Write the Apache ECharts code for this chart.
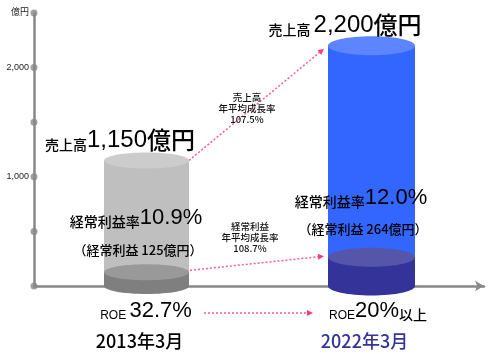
<!DOCTYPE html>
<html>
<head>
<meta charset="utf-8">
<script src="https://cdn.jsdelivr.net/npm/echarts@6/dist/echarts.min.js"></script>
<style>
  html, body { margin: 0; padding: 0; background: #fff; }
  #main { width: 500px; height: 354px; }
</style>
</head>
<body>
<div id="main"></div>
<script>
// data
const categories = ['2013年3月', '2022年3月'];
const sales = [1150, 2200];            // 売上高 (億円)
const ordinaryProfit = [125, 264];     // 経常利益 (億円)
const profitRate = ['10.9%', '12.0%'];
const roe = ['32.7%', '20%'];
const salesCagr = '107.5%';
const profitCagr = '108.7%';
const yTicks = [0, 500, 1000, 1500, 2000, 2500];

const JP = "'Noto Sans CJK JP', sans-serif";
const NUM = "'Liberation Sans Narrow', 'Liberation Sans', 'Noto Sans CJK JP', sans-serif";
const LAT = "'Liberation Sans', 'Noto Sans CJK JP', sans-serif";

const cylStyle = [
  { w: 85, ry: 8, body: '#bfbfbf', top: '#cccccc', dark: '#7f7f7f', darkTop: '#999999' },
  { w: 87, ry: 9.5, body: '#3366ff', top: '#5c85ff', dark: '#333399', darkTop: '#5555aa' }
];

let myChart = echarts.init(document.getElementById('main'));

let option = {
  animation: false,
  grid: { left: 34, right: 16, top: 13, bottom: 68, containLabel: false },
  xAxis: [
    {
      type: 'category',
      data: categories,
      boundaryGap: true,
      axisTick: { show: false },
      axisLine: {
        show: true,
        symbol: ['none', 'arrow'],
        symbolSize: [8, 9],
        lineStyle: { color: '#888888', width: 2.5 }
      },
      axisLabel: {
        margin: 46,
        fontSize: 18,
        fontWeight: 500,
        fontFamily: JP,
        padding: [0, 14, 0, 0],
        color: function (v, i) { return i === 1 ? '#333399' : '#000000'; }
      }
    },
    { type: 'value', min: 0, max: 1, show: false }
  ],
  yAxis: {
    type: 'value',
    min: 0,
    max: 2500,
    interval: 500,
    splitLine: { show: false },
    axisTick: { show: false },
    axisLine: { show: true, lineStyle: { color: '#888888', width: 2.5 } },
    axisLabel: {
      margin: 5,
      fontSize: 9,
      color: '#222222',
      fontFamily: LAT,
      formatter: function (v) {
        if (v === 2500) return '億円';
        if (v === 1000 || v === 2000) return v.toLocaleString('en-US');
        return '';
      }
    }
  },
  series: [
    {
      type: 'custom',
      xAxisIndex: 0,
      z: 3,
      data: categories.map((c, i) => [i, sales[i], ordinaryProfit[i]]),
      encode: { x: 0, y: 1 },
      renderItem: function (params, api) {
        const i = params.dataIndex;
        const base = api.coord([i, 0]);
        const x = base[0], yBase = base[1];
        const yTop = api.coord([i, api.value(1)])[1];
        const yIn = api.coord([i, api.value(2)])[1];
        const s = cylStyle[i];
        const rx = s.w / 2;
        return {
          type: 'group',
          children: [
            { type: 'rect', shape: { x: x - rx, y: yTop, width: s.w, height: yBase - yTop }, style: { fill: s.body } },
            { type: 'ellipse', shape: { cx: x, cy: yBase, rx: rx, ry: s.ry }, style: { fill: s.dark } },
            { type: 'rect', shape: { x: x - rx, y: yIn, width: s.w, height: yBase - yIn }, style: { fill: s.dark } },
            { type: 'ellipse', shape: { cx: x, cy: yIn, rx: rx, ry: s.ry }, style: { fill: s.darkTop } },
            { type: 'ellipse', shape: { cx: x, cy: yTop, rx: rx, ry: s.ry }, style: { fill: s.top } }
          ]
        };
      }
    },
    {
      type: 'scatter',
      xAxisIndex: 1,
      z: 4,
      symbolSize: 7,
      itemStyle: { color: '#888888' },
      data: yTicks.map(v => [0, v])
    }
  ]
};

myChart.setOption(option);

// annotations & arrows
function arrow(p1, p2) {
  const dx = p2[0] - p1[0], dy = p2[1] - p1[1];
  const len = Math.sqrt(dx * dx + dy * dy);
  const ux = dx / len, uy = dy / len;
  const L = 6, W = 3;
  const bx = p2[0] - ux * L, by = p2[1] - uy * L;
  return [
    {
      type: 'line',
      shape: { x1: p1[0], y1: p1[1], x2: bx, y2: by },
      style: { stroke: '#ff5c93', lineWidth: 1.5, lineDash: [2, 2] }
    },
    {
      type: 'polygon',
      shape: { points: [[p2[0], p2[1]], [bx - uy * W, by + ux * W], [bx + uy * W, by - ux * W]] },
      style: { fill: '#ff3c80' }
    }
  ];
}

const g0Top = myChart.convertToPixel({ seriesIndex: 0 }, [0, sales[0]]);
const g1Top = myChart.convertToPixel({ seriesIndex: 0 }, [1, sales[1]]);
const g0In = myChart.convertToPixel({ seriesIndex: 0 }, [0, ordinaryProfit[0]]);
const g1In = myChart.convertToPixel({ seriesIndex: 0 }, [1, ordinaryProfit[1]]);

function txt(x, y, text, rich, extra) {
  return {
    type: 'text',
    z: 10,
    style: Object.assign({ x: x, y: y, text: text, rich: rich, align: 'center', verticalAlign: 'bottom', fill: '#000' }, extra || {})
  };
}

const big = { fontSize: 24, fontFamily: NUM, verticalAlign: 'bottom', lineHeight: 26 };
const pct = { fontSize: 22, fontFamily: NUM, verticalAlign: 'bottom', lineHeight: 26 };
const small = { fontSize: 14, fontWeight: 500, fontFamily: JP, verticalAlign: 'bottom', lineHeight: 22 };
const bigJp = { fontSize: 24, fontWeight: 500, fontFamily: JP, verticalAlign: 'bottom', lineHeight: 26 };
const roeS = { fontSize: 12, fontFamily: LAT, verticalAlign: 'bottom', lineHeight: 20 };

const graphics = []
  .concat(arrow([g0Top[0] + cylStyle[0].w / 2, g0Top[1]], [g1Top[0] - cylStyle[1].w / 2 - 4, g1Top[1] + 3]))
  .concat(arrow([g0In[0] + cylStyle[0].w / 2 + 1, g0In[1] - 2], [g1In[0] - cylStyle[1].w / 2 - 4, g1In[1] - 1]))
  .concat(arrow([204, 313], [313, 313]))
  .concat([
    txt(120, 152, '{s|売上高}{b|' + sales[0].toLocaleString('en-US') + '}{j|億円}', { s: small, b: big, j: bigJp }),
    txt(345, 37, '{s|売上高 }{b|' + sales[1].toLocaleString('en-US') + '}{j|億円}', { s: small, b: big, j: bigJp }),
    txt(136, 229, '{s|経常利益率}{b|' + profitRate[0] + '}', { s: small, b: pct }),
    txt(361, 209, '{s|経常利益率}{b|' + profitRate[1] + '}', { s: small, b: pct }),
    txt(138, 257, '（経常利益 ' + ordinaryProfit[0] + '億円）', null, { fontSize: 13, fontWeight: 500, fontFamily: JP }),
    txt(363, 236, '（経常利益 ' + ordinaryProfit[1] + '億円）', null, { fontSize: 13, fontWeight: 500, fontFamily: JP }),
    txt(146, 322, '{r|ROE }{b|' + roe[0] + '}', { r: roeS, b: pct }),
    txt(378, 322, '{r|ROE}{b|' + roe[1] + '}{s|以上}', { r: roeS, b: pct, s: small }),
    txt(247, 125, '売上高\n年平均成長率\n' + salesCagr, null, { fontSize: 9.5, fontWeight: 500, lineHeight: 11, fontFamily: JP, fill: '#111' }),
    txt(250, 254, '経常利益\n年平均成長率\n' + profitCagr, null, { fontSize: 9.5, fontWeight: 500, lineHeight: 11, fontFamily: JP, fill: '#111' })
  ]);

myChart.setOption({ graphic: graphics });
</script>
</body>
</html>
